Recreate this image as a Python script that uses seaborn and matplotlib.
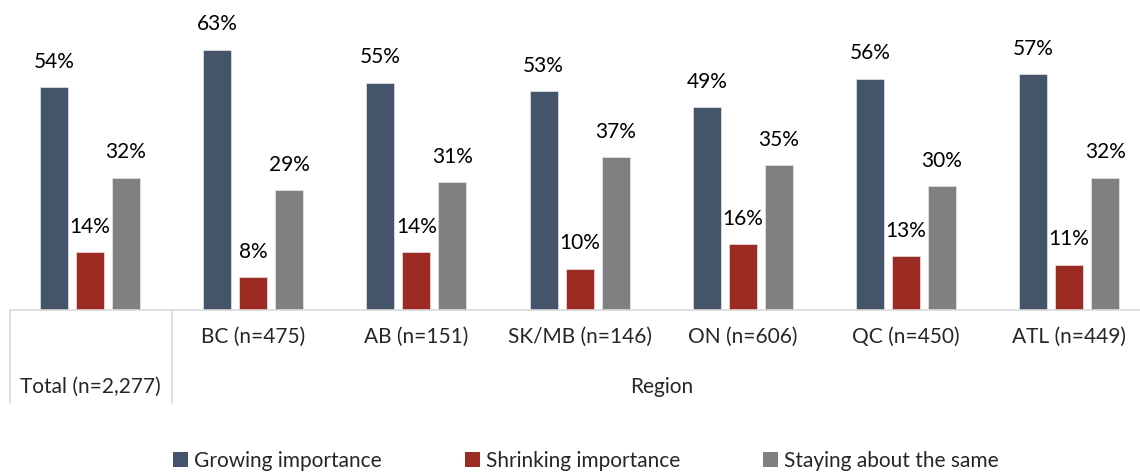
import pandas as pd
import matplotlib
matplotlib.use('Agg')
import matplotlib.pyplot as plt
import seaborn as sns
from matplotlib.patches import Patch

categories = ['Total (n=2,277)', 'BC (n=475)', 'AB (n=151)', 'SK/MB (n=146)',
              'ON (n=606)', 'QC (n=450)', 'ATL (n=449)']
series = ['Growing importance', 'Shrinking importance', 'Staying about the same']
growing = [54, 63, 55, 53, 49, 56, 57]
shrinking = [14, 8, 14, 10, 16, 13, 11]
same = [32, 29, 31, 37, 35, 30, 32]
colors = ['#44546A', '#9A2A22', '#808080']

rows = []
for i, c in enumerate(categories):
    for s, vals in zip(series, [growing, shrinking, same]):
        rows.append({'cat': c, 'series': s, 'value': vals[i]})
df = pd.DataFrame(rows)

sns.set_style('white')
plt.rcParams['font.family'] = ['Lato', 'DejaVu Sans']
fs = 15

fig = plt.figure(figsize=(11.4, 4.73), dpi=100)
W, H = 1140, 473
left_px, cat_px = 8.4, 163.2
ax = fig.add_axes([left_px / W, (H - 310) / H, 7 * cat_px / W, 310 / H])

sns.barplot(data=df, x='cat', y='value', hue='series', order=categories,
            hue_order=series, palette=colors, width=0.662, gap=0.22,
            edgecolor='#e6e6e6', linewidth=0.5, saturation=1, legend=False, ax=ax)

for cont in ax.containers:
    ax.bar_label(cont, fmt='%d%%', padding=11, fontsize=fs, color='#000000')

ax.set_ylim(0, 75)
ax.set_xlim(-0.5, 6.5)
ax.set_yticks([])
ax.set_xlabel('')
ax.set_ylabel('')
for sp in ax.spines.values():
    sp.set_visible(False)

ax.set_xticks(range(1, 7))
ax.set_xticklabels(categories[1:], fontsize=fs)
ax.tick_params(axis='x', length=0, pad=12)

tr = ax.get_xaxis_transform()
grid_c = '#d9d9d9'
ax.plot([-0.49, 6.5], [0, 0], color=grid_c, lw=1.2, transform=tr, clip_on=False)
ax.plot([-0.49, -0.49], [0, -0.3], color=grid_c, lw=1.2, transform=tr, clip_on=False)
ax.plot([0.5, 0.5], [0, -0.3], color=grid_c, lw=1.2, transform=tr, clip_on=False)
ax.text(0, -0.248, categories[0], transform=tr, ha='center', va='center', fontsize=fs)
ax.text(3.5, -0.248, 'Region', transform=tr, ha='center', va='center', fontsize=fs)

handles = [Patch(facecolor=c, edgecolor='none') for c in colors]
fig.legend(handles, series, loc='center', bbox_to_anchor=(0.514, (H - 461) / H),
           ncol=3, frameon=False, fontsize=fs, handlelength=0.7, handleheight=0.7,
           handletextpad=0.3, columnspacing=4.0, borderpad=0)

fig.savefig('out.png', dpi=100)
